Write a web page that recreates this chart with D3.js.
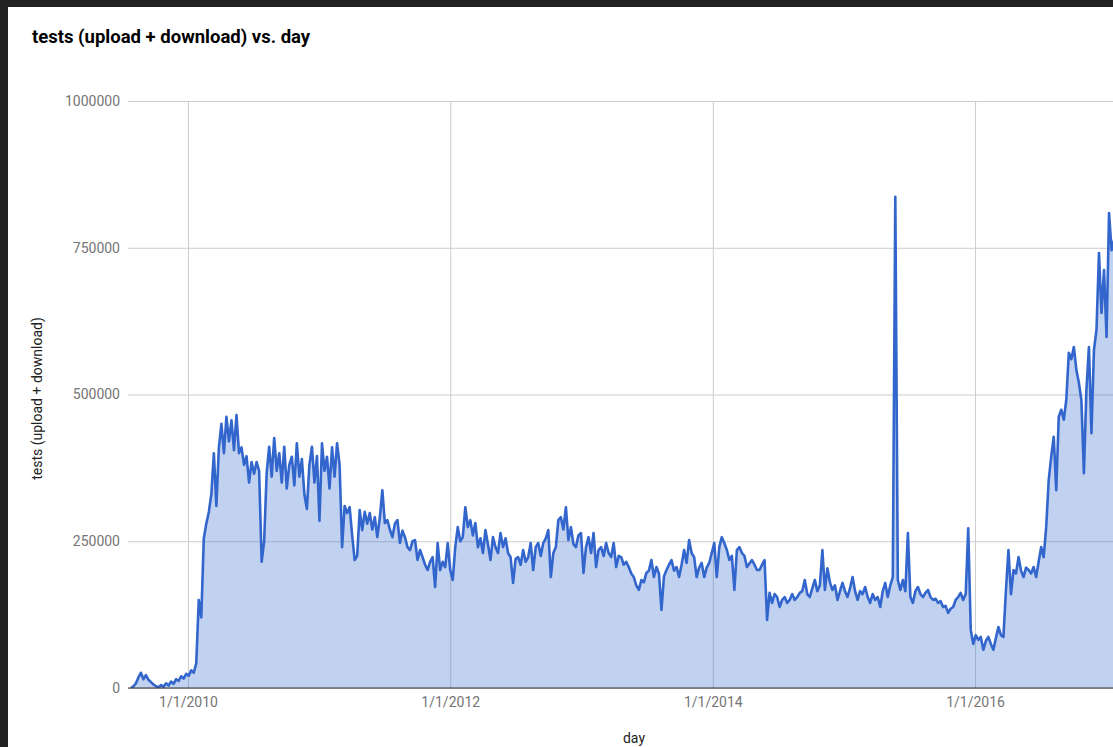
<!DOCTYPE html>
<html><head><meta charset="utf-8">
<script src="https://cdn.jsdelivr.net/npm/d3@7"></script>
<style>
html,body{margin:0;padding:0;background:#212121;overflow:hidden;}
svg{display:block;font-family:Roboto,Arial,sans-serif;}
</style></head><body>
<svg id="chart" width="1113" height="747"></svg>
<script>
// ---- data ----
const firstDay = "2009-07-26";
const dayStep = 7;
const tests = [
0,3000,8000,18000,26000,15000,22000,14000,10000,6000,3000,1000,5000,2000,8000,4000,11000,7000,15000,12000,20000,16000,24000,21000,30000,26000,42000,150000,
120000,255000,280000,300000,330000,400000,310000,410000,450000,400000,462000,420000,456000,405000,465000,400000,410000,380000,395000,350000,385000,365000,385000,370000,215000,250000,366000,411000,360000,426000,370000,400000,350000,411000,340000,380000,394000,345000,417000,360000,390000,330000,305000,380000,411000,350000,395000,285000,417000,370000,394000,340000,410000,360000,417000,380000,
240000,310000,298000,308000,260000,218000,225000,303000,269000,300000,280000,298000,270000,291000,257000,290000,337000,281000,286000,270000,257000,280000,286000,247000,268000,257000,240000,235000,250000,252000,218000,235000,223000,210000,201000,215000,223000,172000,247000,201000,215000,206000,247000,201000,184000,240000,274000,250000,257000,308000,274000,286000,260000,281000,240000,255000,230000,269000,245000,218000,257000,240000,230000,264000,240000,255000,230000,223000,179000,220000,223000,210000,235000,215000,223000,247000,201000,240000,247000,225000,247000,255000,269000,189000,230000,240000,286000,291000,270000,308000,252000,274000,245000,240000,260000,264000,196000,240000,257000,230000,264000,206000,235000,240000,225000,247000,230000,223000,247000,206000,225000,223000,210000,215000,206000,195000,189000,175000,167000,184000,180000,196000,200000,218000,189000,206000,195000,133000,190000,201000,210000,218000,200000,206000,189000,210000,235000,213000,252000,230000,223000,189000,205000,213000,189000,205000,213000,230000,247000,189000,240000,257000,247000,235000,218000,225000,167000,235000,240000,230000,225000,206000,212000,218000,210000,201000,201000,210000,218000,
116000,162000,145000,160000,155000,138000,150000,155000,145000,150000,160000,150000,155000,162000,165000,184000,160000,155000,170000,184000,165000,175000,235000,167000,204000,180000,167000,175000,150000,165000,179000,165000,155000,170000,189000,165000,150000,165000,160000,172000,155000,145000,160000,150000,155000,138000,165000,179000,155000,175000,189000,837000,184000,167000,184000,165000,264000,155000,145000,165000,172000,160000,155000,162000,167000,155000,150000,152000,145000,148000,138000,140000,128000,135000,138000,150000,155000,162000,150000,160000,272000,
99000,75000,90000,82000,87000,65000,80000,87000,75000,65000,85000,104000,90000,87000,167000,235000,160000,201000,195000,223000,200000,189000,205000,201000,195000,206000,189000,215000,240000,223000,274000,354000,394000,428000,337000,462000,474000,457000,491000,571000,560000,581000,542000,520000,490000,366000,508000,581000,434000,576000,610000,741000,639000,712000,598000,809000,746000,763000,770000
];
const xTickDays = ["2010-01-01", "2012-01-01", "2014-01-01", "2016-01-01"];
const xTickLabels = ["1/1/2010", "1/1/2012", "1/1/2014", "1/1/2016"];
const yTickValues = [0, 250000, 500000, 750000, 1000000];
const xDomainDays = ["2009-07-18", "2017-01-19"];
const chartTitle = "tests (upload + download) vs. day";
const yTitle = "tests (upload + download)";
const xTitle = "day";

// ---- layout ----
const W = 1113, H = 747;
const plot = {left: 128, right: 1113, top: 101, bottom: 688};
const lineColor = "#3366cc";

const parse = d3.utcParse("%Y-%m-%d");
const start = parse(firstDay);
const series = tests.map((v, i) => ({date: d3.utcDay.offset(start, i * dayStep), value: v}));

const x = d3.scaleUtc().domain(xDomainDays.map(parse)).range([plot.left, plot.right]);
const y = d3.scaleLinear().domain([0, 1000000]).range([plot.bottom, plot.top]);

const svg = d3.select("#chart");
svg.append("rect").attr("x", 8).attr("y", 7).attr("width", W - 8).attr("height", H - 7).attr("fill", "#ffffff");

svg.append("defs").append("clipPath").attr("id", "clip")
  .append("rect").attr("x", plot.left).attr("y", plot.top - 5)
  .attr("width", plot.right - plot.left).attr("height", plot.bottom - plot.top + 5);

// y axis with gridlines
const yAxis = d3.axisLeft(y).tickValues(yTickValues).tickFormat(d3.format("d"))
  .tickSize(-(plot.right - plot.left)).tickPadding(8);
const gy = svg.append("g").attr("transform", `translate(${plot.left},0)`).call(yAxis);
gy.select(".domain").remove();
gy.selectAll(".tick line").attr("stroke", "#cccccc").attr("stroke-width", 1);
gy.selectAll(".tick text").attr("fill", "#757575").attr("font-size", 14).attr("font-family", "Roboto, Arial, sans-serif");

// x axis with gridlines
const xAxis = d3.axisBottom(x).tickValues(xTickDays.map(parse)).tickFormat((d, i) => xTickLabels[i])
  .tickSize(-(plot.bottom - plot.top)).tickPadding(9);
const gx = svg.append("g").attr("transform", `translate(0,${plot.bottom})`).call(xAxis);
gx.select(".domain").remove();
gx.selectAll(".tick line").attr("stroke", "#cccccc").attr("stroke-width", 1);
gx.selectAll(".tick text").attr("fill", "#757575").attr("font-size", 14).attr("font-family", "Roboto, Arial, sans-serif");

const clipped = svg.append("g").attr("clip-path", "url(#clip)");
clipped.append("path").datum(series)
  .attr("d", d3.area().x(d => x(d.date)).y0(y(0)).y1(d => y(d.value)))
  .attr("fill", lineColor).attr("fill-opacity", 0.3);
clipped.append("path").datum(series)
  .attr("d", d3.line().x(d => x(d.date)).y(d => y(d.value)))
  .attr("fill", "none").attr("stroke", lineColor).attr("stroke-width", 2.6).attr("stroke-linejoin", "round");

// baseline
svg.append("line").attr("x1", plot.left).attr("x2", plot.right)
  .attr("y1", y(0)).attr("y2", y(0)).attr("stroke", "#333333").attr("stroke-width", 1);

// titles
svg.append("text").attr("x", 32).attr("y", 43).text(chartTitle)
  .attr("font-size", 18.5).attr("font-weight", "bold").attr("fill", "#000000");
svg.append("text").attr("transform", `translate(42,${(plot.top + plot.bottom) / 2 + 4}) rotate(-90)`)
  .attr("text-anchor", "middle").text(yTitle).attr("font-size", 14).attr("fill", "#222222");
svg.append("text").attr("x", 634).attr("y", 743).attr("text-anchor", "middle").text(xTitle)
  .attr("font-size", 14).attr("fill", "#222222");
</script>
</body></html>
